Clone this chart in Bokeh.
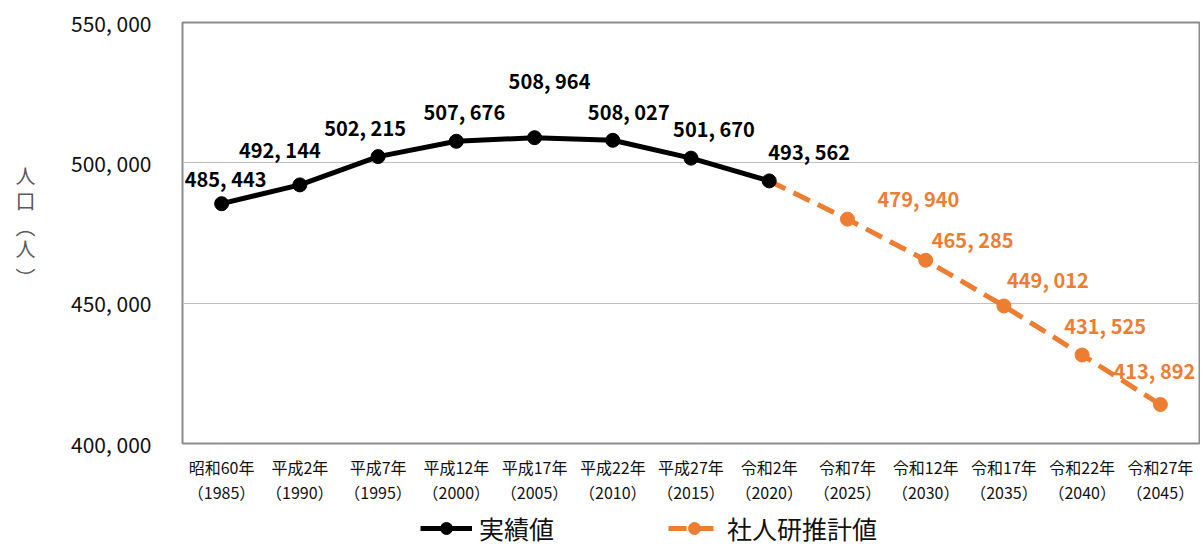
from bokeh.plotting import figure
from bokeh.layouts import column
from bokeh.models import (ColumnDataSource, Range1d, FixedTicker, LabelSet, LinearAxis,
                          Legend, LegendItem)
from bokeh.core.properties import value
from bokeh.embed import file_html
from bokeh.resources import INLINE

# ---- data ----
era_labels = ["昭和60年", "平成2年", "平成7年", "平成12年", "平成17年", "平成22年",
              "平成27年", "令和2年", "令和7年", "令和12年", "令和17年", "令和22年", "令和27年"]
years = ["1985", "1990", "1995", "2000", "2005", "2010", "2015",
         "2020", "2025", "2030", "2035", "2040", "2045"]
actual = [485443, 492144, 502215, 507676, 508964, 508027, 501670, 493562]
projected = [493562, 479940, 465285, 449012, 431525, 413892]
y_ticks = [400000, 450000, 500000, 550000]
series_names = ["実績値", "社人研推計値"]
y_title_chars = ["人", "口", "︵", "人", "︶"]   # 人口（人） written vertically

# ---- style ----
FONT = "Noto Sans CJK JP"
BLACK = "#000000"
ORANGE = "#ED7D31"
W, H, HL = 1200, 508, 38
BL, BR, BT, BB = 182, 1, 22, 65

p = figure(width=W, height=H, output_backend="svg", toolbar_location=None,
           x_range=Range1d(-0.5, len(years) - 0.5), y_range=Range1d(y_ticks[0], y_ticks[-1]),
           min_border_left=BL, min_border_right=BR, min_border_top=BT, min_border_bottom=BB)
p.background_fill_color = "white"
p.border_fill_color = "white"
p.outline_line_color = "#8c8c8c"
p.outline_line_width = 2

fmt = lambda v: f"{v:,}".replace(",", ", ")

# axes
xi = list(range(len(years)))
xax = p.xaxis[0]
xax.ticker = FixedTicker(ticks=xi)
xax.major_label_overrides = {i: f"{era_labels[i]}\n（{years[i]}）" for i in xi}
xax.axis_line_color = None
xax.major_tick_line_color = None
xax.minor_tick_line_color = None
xax.major_label_text_font = FONT
xax.major_label_text_font_size = "16px"
xax.major_label_text_color = "#111111"
xax.major_label_text_line_height = 1.05
xax.major_label_standoff = 5

yax = p.yaxis[0]
yax.ticker = FixedTicker(ticks=y_ticks)
yax.major_label_overrides = {t: fmt(t) for t in y_ticks}
yax.axis_line_color = None
yax.major_tick_line_color = None
yax.minor_tick_line_color = None
yax.major_label_text_font = FONT
yax.major_label_text_font_size = "21px"
yax.major_label_text_color = "#111111"
yax.major_label_standoff = 25

p.xgrid.grid_line_color = None
p.ygrid.grid_line_color = "#c0c0c0"
p.ygrid.grid_line_width = 1

# vertical y-axis title, drawn as upright tick labels of an extra left axis
frame_h = H - BT - BB
def data_y(img_y):
    return int(round(y_ticks[-1] - (img_y - BT) * (y_ticks[-1] - y_ticks[0]) / frame_h))
title_pos = [data_y(v) for v in (175, 200, 226, 248, 277)]
tax = LinearAxis(ticker=FixedTicker(ticks=title_pos),
                 major_label_overrides={t: c for t, c in zip(title_pos, y_title_chars)},
                 axis_line_color=None, major_tick_line_color=None, minor_tick_line_color=None,
                 major_label_text_font=FONT, major_label_text_font_size="20px",
                 major_label_text_color="#595959", major_label_standoff=27)
p.add_layout(tax, "left")

# series
xa = xi[:len(actual)]
xp = xi[len(actual) - 1:]
src_a = ColumnDataSource(dict(x=xa, y=actual))
src_p = ColumnDataSource(dict(x=xp, y=projected))

line_a = dict(line_color=BLACK, line_width=5)
line_p = dict(line_color=ORANGE, line_width=5, line_dash="18 9")
mark_a = dict(size=14, fill_color=BLACK, line_color=BLACK)
mark_p = dict(size=14, fill_color=ORANGE, line_color=ORANGE)

p.line("x", "y", source=src_p, **line_p)
p.scatter(x=xp[1:], y=projected[1:], **mark_p)
p.line("x", "y", source=src_a, **line_a)
p.scatter("x", "y", source=src_a, **mark_a)

# data labels (pixel offsets are style)
dx_a = [4, -20, -13, 8, 15, 16, 23, 40]
dy_a = [25, 35, 29, 30, 57, 29, 30, 29]
dx_p = [71, 47, 44, 23, -6]
dy_p = [21, 21, 26, 30, 34]
lab_a = ColumnDataSource(dict(x=xa, y=actual, t=[fmt(v) for v in actual], dx=dx_a, dy=dy_a))
lab_p = ColumnDataSource(dict(x=xp[1:], y=projected[1:], t=[fmt(v) for v in projected[1:]],
                              dx=dx_p, dy=dy_p))
for s, c in ((lab_a, BLACK), (lab_p, ORANGE)):
    p.add_layout(LabelSet(x="x", y="y", text="t", source=s, x_offset="dx", y_offset="dy",
                          text_font=value(FONT), text_font_size=value("20px"),
                          text_font_style=value("bold"),
                          text_color=c, text_align="center", text_baseline="middle"))

# legend strip (separate small figure so the legend is not clipped)
pl = figure(width=W, height=HL, output_backend="svg", toolbar_location=None,
            x_range=Range1d(0, 1), y_range=Range1d(0, 1),
            min_border=0, outline_line_color=None)
pl.axis.visible = False
pl.grid.visible = False
nan = float("nan")
ra_l = pl.line(x=[nan, nan], y=[nan, nan], **line_a)
ra_m = pl.scatter(x=[nan], y=[nan], **mark_a)
rp_l = pl.line(x=[nan, nan], y=[nan, nan], **line_p)
rp_m = pl.scatter(x=[nan], y=[nan], **mark_p)
legend = Legend(items=[LegendItem(label=series_names[0], renderers=[ra_l, ra_m]),
                       LegendItem(label=series_names[1], renderers=[rp_l, rp_m])],
                orientation="horizontal", location=(238, 0),
                glyph_width=52, glyph_height=30, label_standoff=7, spacing=114,
                padding=0, margin=0, border_line_color=None, background_fill_alpha=0,
                label_text_font=FONT, label_text_font_size="25px", label_text_color="#111111")
pl.add_layout(legend, "center")

layout = column(p, pl, spacing=0)
open("out.html", "w").write(file_html(layout, INLINE))
